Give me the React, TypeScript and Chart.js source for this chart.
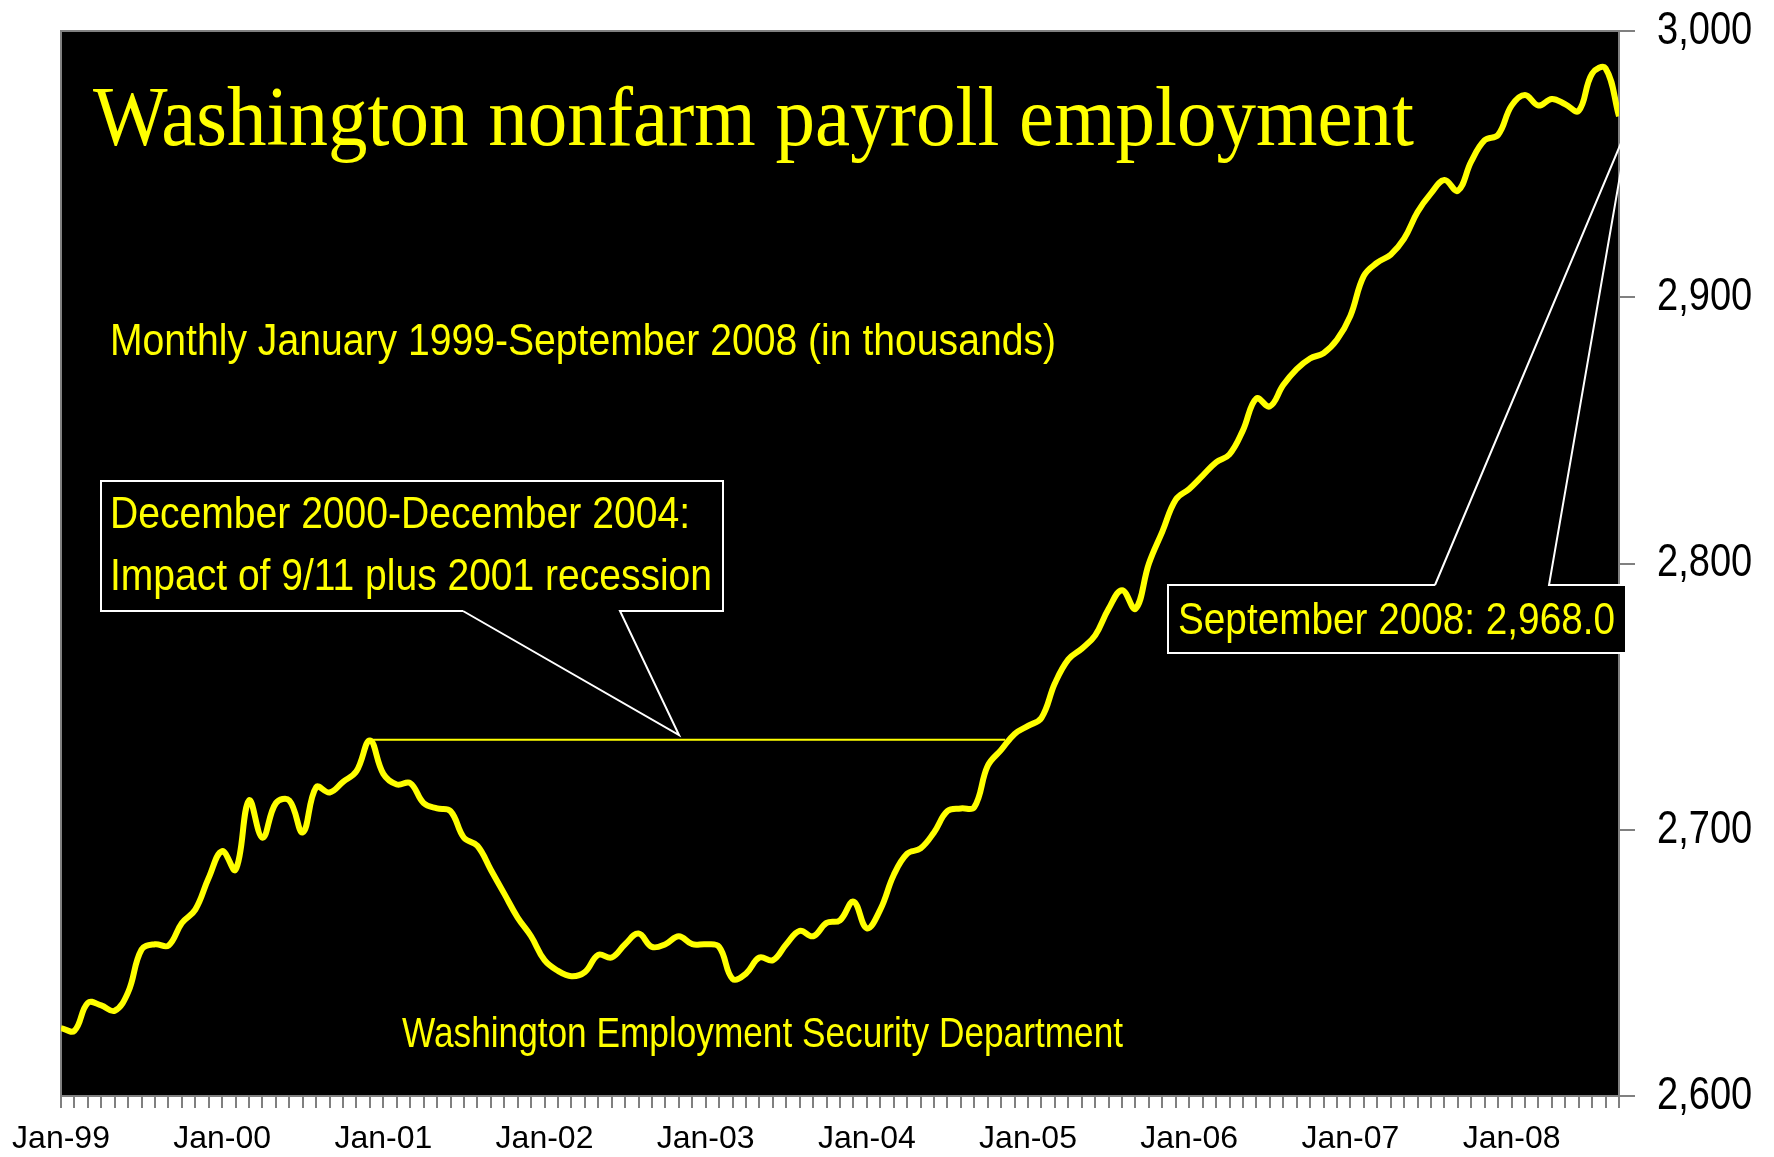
import React, { useEffect, useRef } from 'react';
import { Chart, registerables } from 'chart.js';

Chart.register(...registerables);

// ---------- data ----------
const yearLabels = ['Jan-99', 'Jan-00', 'Jan-01', 'Jan-02', 'Jan-03', 'Jan-04', 'Jan-05', 'Jan-06', 'Jan-07', 'Jan-08'];

// Monthly Washington nonfarm payroll employment, Jan 1999 .. Sep 2008 (thousands)
const employment = [
  2625.5, 2624.5, 2635, 2634, 2632, 2639, 2655, 2657, 2656.5, 2665, 2670, 2682, // 1999
  2692, 2685, 2711, 2697, 2710, 2711, 2699, 2716, 2714, 2718, 2722, 2733.5,     // 2000
  2721, 2717, 2717.5, 2710, 2708, 2707, 2697, 2694, 2685, 2676, 2667, 2660,     // 2001
  2651, 2647, 2645, 2646.5, 2653, 2652, 2657, 2661, 2656, 2657, 2660, 2657,     // 2002
  2657, 2656, 2644, 2646, 2652, 2651, 2657, 2662, 2660, 2665, 2666, 2673,       // 2003
  2663, 2670, 2683, 2691, 2693, 2699, 2707, 2708, 2708.5, 2724, 2730, 2736,     // 2004
  2739, 2742, 2755, 2764, 2768, 2773, 2783, 2790, 2783, 2800, 2812, 2824,       // 2005
  2828, 2833, 2838, 2841, 2850, 2862, 2859, 2867, 2873, 2877, 2879, 2884,       // 2006
  2893, 2908, 2913, 2916, 2922, 2932, 2939, 2944, 2940, 2951, 2959, 2961,       // 2007
  2972, 2976, 2972, 2974.5, 2972.5, 2970, 2984, 2986, 2968.0,                   // 2008
];

const yTickValues = [2600, 2700, 2800, 2900, 3000];
const peakLevel = 2733.8;
const peakStartIndex = 23; // Dec 2000
const peakEndIndex = 70.3; // where the level is regained, late 2004

const titleText = 'Washington nonfarm payroll employment';
const subtitleText = 'Monthly January 1999-September 2008 (in thousands)';
const recessionNote = ['December 2000-December 2004:', 'Impact of 9/11 plus 2001 recession'];
const latestNote = 'September 2008: 2,968.0';
const sourceText = 'Washington Employment Security Department';

// ---------- styling ----------
const SANS = '"Liberation Sans", Arial, sans-serif';
const SERIF = '"Liberation Serif", "Times New Roman", serif';
const YELLOW = '#FFFF00';
const GRAY = '#808080';

const W = 1774;
const H = 1157;
const PLOT_RIGHT = 1619;
const Y_TICK_LEN = 16;
const Y_TICK_PAD = 22;
const Y_LABEL_SX = 0.81;

// draw text squeezed horizontally to a given width (narrow typeface look)
function fitText(ctx: CanvasRenderingContext2D, text: string, x: number, y: number, font: string, width: number) {
  ctx.save();
  ctx.font = font;
  const w = ctx.measureText(text).width;
  ctx.translate(x, y);
  ctx.scale(width / w, 1);
  ctx.fillText(text, 0, 0);
  ctx.restore();
}

const narrowYLabels = {
  id: 'narrowYLabels',
  afterLayout(chart: any) {
    const s: any = chart.scales.y;
    if (!s || s.__narrow) return;
    s.__narrow = true;
    const orig = s.drawLabels;
    s.drawLabels = function (area: any) {
      const ctx = this.ctx;
      const x0 = this.left + Y_TICK_LEN + Y_TICK_PAD;
      ctx.save();
      ctx.translate(x0, 0);
      ctx.scale(Y_LABEL_SX, 1);
      ctx.translate(-x0, 0);
      orig.call(this, area);
      ctx.restore();
    };
  },
};

const decorPlugin = {
  id: 'decor',
  beforeDatasetsDraw(chart: any) {
    const { ctx, chartArea: a } = chart;
    ctx.save();
    ctx.fillStyle = '#000';
    ctx.fillRect(a.left, a.top, a.right - a.left, a.bottom - a.top);
    ctx.strokeStyle = GRAY;
    ctx.lineWidth = 2;
    ctx.strokeRect(a.left, a.top, a.right - a.left, a.bottom - a.top);
    ctx.restore();
  },
  afterDraw(chart: any) {
    const { ctx } = chart;
    ctx.save();
    ctx.textBaseline = 'alphabetic';
    ctx.textAlign = 'left';

    // title
    ctx.fillStyle = YELLOW;
    fitText(ctx, titleText, 93, 145, `84px ${SERIF}`, 1321);

    // subtitle
    fitText(ctx, subtitleText, 110, 355, `44px ${SANS}`, 946);

    // source
    fitText(ctx, sourceText, 402, 1047, `43px ${SANS}`, 721);

    const callout = (x1: number, y1: number, x2: number, y2: number, a1: number, a2: number, apx: number, apy: number, top: boolean) => {
      ctx.fillStyle = '#000';
      ctx.fillRect(x1, y1, x2 - x1, y2 - y1);
      ctx.strokeStyle = '#fff';
      ctx.lineWidth = 2;
      ctx.beginPath();
      const ey = top ? y1 : y2;
      const oy = top ? y2 : y1;
      ctx.moveTo(a1, ey);
      ctx.lineTo(x1, ey);
      ctx.lineTo(x1, oy);
      ctx.lineTo(x2, oy);
      ctx.lineTo(x2, ey);
      ctx.lineTo(a2, ey);
      ctx.lineTo(apx, apy);
      ctx.lineTo(a1, ey);
      ctx.stroke();
    };

    // recession note box
    callout(101, 481, 723, 611, 463, 620, 679, 735, false);
    ctx.fillStyle = YELLOW;
    fitText(ctx, recessionNote[0], 110, 528, `44px ${SANS}`, 580);
    fitText(ctx, recessionNote[1], 110, 590, `44px ${SANS}`, 602);

    // latest value box
    callout(1168, 585, 1626, 653, 1435, 1549, 1629, 124, true);
    ctx.fillStyle = YELLOW;
    fitText(ctx, latestNote, 1178, 634, `44px ${SANS}`, 437);

    ctx.restore();
  },
};

export default function App() {
  const ref = useRef<HTMLCanvasElement>(null);

  useEffect(() => {
    document.body.style.margin = '0';
    const canvas = ref.current!;
    const chart = new Chart(canvas, {
      type: 'line',
      data: {
        datasets: [
          {
            data: employment.map((v, i) => ({ x: i, y: v })),
            borderColor: YELLOW,
            borderWidth: 6,
            pointRadius: 0,
            tension: 0.4,
            fill: false,
          },
          {
            data: [
              { x: peakStartIndex, y: peakLevel },
              { x: peakEndIndex, y: peakLevel },
            ],
            borderColor: YELLOW,
            borderWidth: 2,
            pointRadius: 0,
            tension: 0,
            fill: false,
          },
        ],
      },
      options: {
        responsive: false,
        animation: false,
        devicePixelRatio: 1,
        layout: { padding: { left: 61, top: 31, right: 0, bottom: 0 } },
        plugins: { legend: { display: false }, tooltip: { enabled: false }, title: { display: false } },
        scales: {
          x: {
            type: 'linear',
            min: 0,
            max: employment.length - 1,
            afterFit(scale: any) {
              scale.height = H - 1096;
              scale.paddingLeft = 0;
              scale.paddingRight = 0;
            },
            grid: { drawOnChartArea: false, drawTicks: true, tickLength: 12, color: GRAY, lineWidth: 2 },
            border: { display: true, color: GRAY, width: 2 },
            ticks: {
              stepSize: 1,
              autoSkip: false,
              maxRotation: 0,
              minRotation: 0,
              padding: 12,
              color: '#000',
              font: { family: SANS, size: 32 },
              callback: (v: any) => (Number(v) % 12 === 0 ? yearLabels[Number(v) / 12] : ''),
            },
          },
          y: {
            position: 'right',
            min: yTickValues[0],
            max: yTickValues[yTickValues.length - 1],
            afterFit(scale: any) {
              scale.width = W - PLOT_RIGHT;
              scale.paddingTop = 0;
              scale.paddingBottom = 0;
            },
            afterBuildTicks(scale: any) {
              scale.ticks = yTickValues.map((v) => ({ value: v }));
            },
            grid: { drawOnChartArea: false, drawTicks: true, tickLength: Y_TICK_LEN, color: GRAY, lineWidth: 2 },
            border: { display: true, color: GRAY, width: 2 },
            ticks: {
              padding: Y_TICK_PAD,
              color: '#000',
              font: { family: SANS, size: 47 },
              callback: (v: any) => Number(v).toLocaleString('en-US'),
            },
          },
        },
      },
      plugins: [narrowYLabels, decorPlugin],
    } as any);
    return () => chart.destroy();
  }, []);

  return (
    <div style={{ width: W, height: H, background: '#fff' }}>
      <canvas ref={ref} width={W} height={H} style={{ display: 'block' }} />
    </div>
  );
}
